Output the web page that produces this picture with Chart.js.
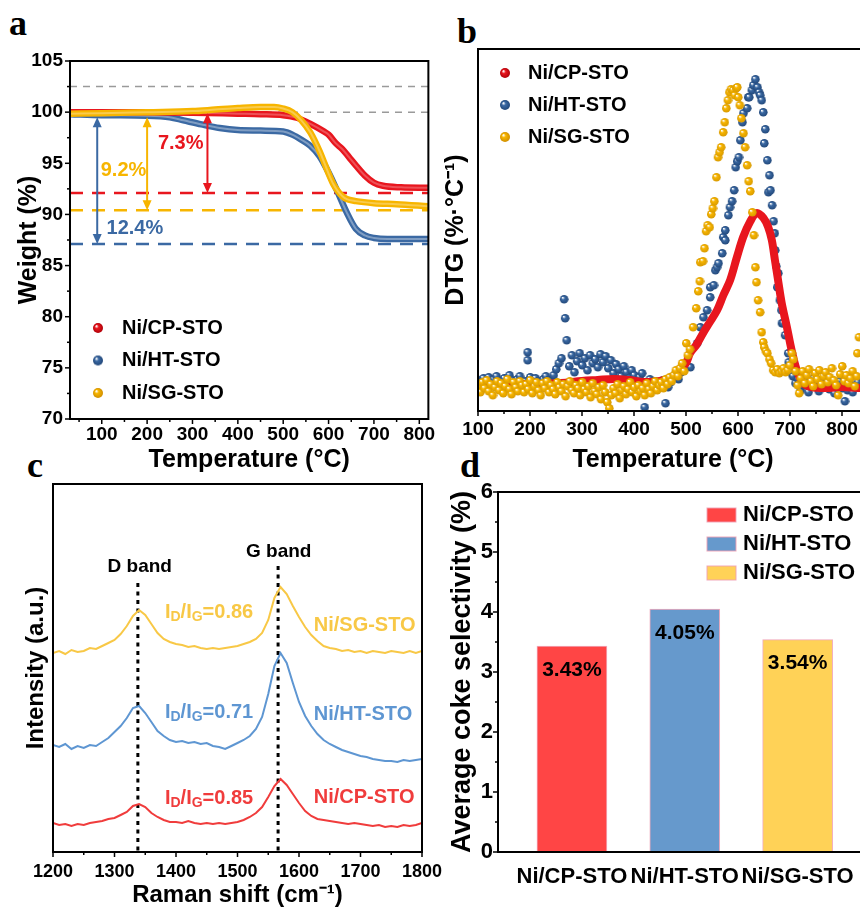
<!DOCTYPE html>
<html>
<head>
<meta charset="utf-8">
<script src="https://cdn.jsdelivr.net/npm/chart.js@4.4.0/dist/chart.umd.min.js"></script>
<style>
  html, body { margin: 0; padding: 0; background: #fff; overflow: hidden; width: 860px; height: 908px; }
  canvas { position: absolute; }
  .tag { position: absolute; font-family: "Liberation Serif", "Times New Roman", serif; font-weight: bold; font-size: 36px; line-height: 36px; }
</style>
</head>
<body>
<div class="tag" style="left:9px;top:5px">a</div>
<div class="tag" style="left:457px;top:13px">b</div>
<div class="tag" style="left:27px;top:447px">c</div>
<div class="tag" style="left:460px;top:447px">d</div>
<canvas id="ca" width="440" height="480" style="left:0;top:0"></canvas>
<canvas id="cb" width="460" height="480" style="left:440px;top:0"></canvas>
<canvas id="cc" width="470" height="440" style="left:0;top:470px"></canvas>
<canvas id="cd" width="460" height="440" style="left:440px;top:470px"></canvas>
<script>
// ---- data: (a) TGA ----
const tgaCpT = [30, 100, 200, 300, 400, 450, 500, 530, 560, 590, 600, 615, 630, 645, 660, 680, 700, 720, 760, 820];
const tgaCpW = [100.0, 100.0, 100.0, 99.95, 99.85, 99.8, 99.7, 99.45, 98.85, 98.1, 97.8, 97.0, 96.4, 95.6, 94.8, 93.8, 93.1, 92.8, 92.65, 92.6];
const tgaHtT = [30, 100, 200, 250, 280, 320, 360, 400, 450, 500, 520, 540, 560, 580, 600, 620, 640, 660, 680, 700, 730, 820];
const tgaHtW = [99.8, 99.7, 99.65, 99.5, 99.2, 98.8, 98.45, 98.25, 98.2, 98.1, 97.8, 97.3, 96.7, 95.7, 94.1, 92.2, 90.2, 88.6, 87.95, 87.7, 87.6, 87.6];
const tgaSgT = [30, 100, 200, 300, 350, 400, 450, 480, 500, 520, 540, 560, 580, 600, 610, 620, 630, 640, 660, 700, 750, 820];
const tgaSgW = [99.85, 99.9, 100.0, 100.1, 100.25, 100.4, 100.5, 100.5, 100.35, 100.0, 99.2, 98.0, 96.2, 94.0, 93.0, 92.3, 91.8, 91.5, 91.3, 91.1, 91.0, 90.8];
const tgaXTicks = [100, 200, 300, 400, 500, 600, 700, 800];
const grayLevels = [102.5, 100];
const lossLevel = [92.1, 90.4, 87.1];     // CP, SG, HT residual weight
const lossTop = [99.9, 99.5, 99.5];
const lossText = ['7.3%', '9.2%', '12.4%'];

// ---- data: (b) DTG, [temperature, value] ----
const dtgCpT = [100, 140, 180, 220, 260, 300, 330, 360, 390, 420, 450, 480, 500, 508, 520, 533, 546, 560, 572, 585, 598, 610, 623, 636, 649, 658, 665, 671, 677, 684, 694, 703, 713, 725, 740, 770, 800, 830, 850];
const dtgCpV = [2.6, 2.6, 2.7, 2.7, 2.8, 3.0, 3.1, 3.2, 3.1, 2.9, 3.0, 3.6, 4.8, 5.8, 6.6, 7.8, 8.9, 10.1, 11.6, 13.1, 15.4, 17.4, 18.9, 19.8, 19.3, 18.4, 17.1, 15.1, 13.1, 10.8, 8.4, 6.1, 4.1, 2.8, 2.4, 2.3, 2.4, 2.3, 2.3];
const dtgHt = [
  [100,3.1],[105,2.7],[110,3.3],[115,2.9],[120,3.4],[125,2.6],[130,3.2],[135,3.5],[140,2.8],[145,3.0],
  [150,3.3],[155,2.5],[160,3.6],[165,3.1],[170,2.7],[175,3.2],[180,3.5],[185,2.9],[190,3.0],[195,5.9],
  [195,5.1],[200,3.4],[205,2.8],[210,3.3],[215,3.0],[220,2.6],[225,3.2],[230,3.5],[235,3.1],[240,2.9],
  [245,3.6],[250,4.2],[255,4.8],[260,5.3],[265,11.2],[267,9.3],[270,7.1],[275,4.5],[280,5.6],[285,3.9],
  [290,5.0],[295,5.8],[300,4.6],[305,5.3],[310,4.1],[315,5.6],[320,4.8],[325,5.2],[330,4.4],[335,5.7],
  [340,4.9],[345,5.5],[350,4.3],[355,5.1],[360,3.8],[365,4.7],[370,4.2],[375,3.5],[380,4.5],[385,3.9],
  [390,3.3],[395,4.1],[400,3.6],[405,2.9],[410,3.4],[415,3.8],[420,0.4],[425,2.8],[430,3.2],[435,2.6],
  [440,3.0],[445,2.7],[450,2.5],[455,3.1],[460,0.8],[465,2.4],[470,2.9],[475,3.3],[480,3.7],[485,3.2],
  [490,3.9],[495,4.3],
  [508,4.4],[521,6.8],[527,8.4],[533,9.4],[540,10.1],[546,11.4],[546,12.4],[553,12.6],[556,14.1],[559,14.4],
  [562,14.8],[569,15.8],[571,17.4],[575,17.1],[575,18.1],[581,19.6],[584,20.4],[588,21.0],[592,22.1],[595,24.4],
  [598,25.0],[601,25.4],[604,27.1],[608,28.9],[610,29.8],[617,30.3],[619,31.4],[621,31.4],[626,32.1],[629,32.6],
  [633,33.2],[637,32.4],[640,31.9],[642,31.6],[645,31.1],[648,29.9],[650,26.8],[652,28.2],[656,25.1],[658,21.9],
  [660,23.6],[662,22.1],[665,20.6],[668,19.0],[670,17.8],[671,16.1],[673,14.5],[675,12.4],[677,13.8],[680,11.1],
  [683,10.1],[684,8.8],[686,8.8],[690,7.6],[696,5.8],[697,4.9],[703,3.8],
  [705,3.5],[710,2.8],[715,3.2],[720,2.1],[725,2.6],[730,3.0],[735,1.9],[740,2.7],[745,3.3],[750,2.4],
  [755,2.0],[760,2.9],[765,2.5],[770,3.1],[775,2.2],[780,2.8],[785,1.8],[790,2.6],[795,3.0],[800,2.3],
  [805,1.0],[810,2.1],[815,2.7],[820,1.9],[825,2.5],[830,2.9]
];
const dtgSg = [
  [100,2.6],[104,1.9],[108,2.9],[112,2.3],[116,3.1],[120,2.0],[124,2.7],[128,1.6],[132,2.4],[136,3.0],
  [140,2.1],[144,2.8],[148,1.8],[152,2.5],[156,3.2],[160,2.2],[164,1.7],[168,2.9],[172,2.4],[176,2.0],
  [180,3.0],[184,2.6],[188,1.9],[192,2.7],[196,2.2],[200,3.1],[204,1.8],[208,2.5],[212,2.9],[216,2.1],
  [220,1.6],[224,2.8],[228,2.3],[232,3.0],[236,1.9],[240,2.6],[244,2.2],[248,1.7],[252,2.9],[256,2.4],
  [260,2.0],[264,2.7],[268,1.5],[272,2.5],[276,3.0],[280,2.1],[284,1.8],[288,2.6],[292,2.3],[296,1.6],
  [300,2.9],[304,2.2],[308,1.9],[312,2.5],[316,1.4],[320,2.8],[324,2.0],[328,1.7],[332,2.4],[336,1.2],
  [340,2.6],[344,1.9],[348,0.9],[352,0.3],[356,1.6],[360,2.3],[364,1.8],[368,2.7],[372,1.3],[376,2.1],
  [380,2.5],[384,1.7],[388,2.2],[392,2.9],[396,1.9],[400,2.4],[404,1.5],[408,2.6],[412,2.0],[416,2.3],
  [420,1.6],[424,2.8],[428,2.2],[432,1.8],[436,2.5],[440,3.0],[444,2.1],[448,2.6],[452,2.9],[456,2.3],
  [460,3.2],[464,2.7],[468,3.4],[472,3.0],[476,3.6],[480,4.1],[484,3.5],[488,4.3],[492,4.8],[496,4.0],
  [500,6.8],[503,5.6],[507,6.2],[513,8.4],[519,10.3],[523,12.0],[526,13.0],[527,14.9],[532,15.0],[535,16.3],
  [538,18.0],[541,18.6],[545,18.4],[548,19.7],[551,20.3],[554,21.0],[558,23.4],[561,25.4],[564,25.9],[567,26.4],
  [571,27.9],[574,28.9],[577,30.3],[580,31.1],[583,31.9],[586,32.2],[590,32.1],[593,31.6],[596,32.3],[598,32.4],
  [600,31.4],[603,30.6],[606,29.3],[610,27.8],[613,26.4],[617,24.6],[620,23.0],[623,22.0],[627,19.9],[630,17.6],
  [633,14.4],[635,12.9],[638,11.1],[642,9.9],[645,7.9],[648,6.9],[650,6.4],[653,6.0],[656,5.8],[660,5.2],
  [663,4.8],[667,4.1],[671,3.9],[675,4.2],[679,3.8],[683,4.0],[687,4.3],[691,3.9],[695,4.1],[699,4.6],
  [703,5.8],[706,5.2],[710,4.0],[714,2.6],[717,1.8],
  [720,3.3],[724,4.0],[728,2.8],[732,3.6],[736,4.2],[740,3.0],[744,2.5],[748,3.8],[752,3.2],[756,4.1],
  [760,2.7],[764,3.5],[768,3.9],[772,2.9],[776,3.4],[780,4.3],[784,3.1],[788,2.6],[792,1.6],[796,3.7],
  [800,4.5],[804,3.0],[808,3.6],[812,2.8],[816,3.3],[820,4.0],[824,2.5],[828,3.5],[829,5.8],[832,7.4]
];
const dtgXTicks = [100, 200, 300, 400, 500, 600, 700, 800];

// ---- data: (c) Raman ----
const ramanX = [1200,1210,1220,1230,1240,1250,1260,1270,1280,1290,1300,1310,1320,1330,1340,1350,1360,1370,1380,1390,
  1400,1410,1420,1430,1440,1450,1460,1470,1480,1490,1500,1510,1520,1530,1540,1550,1560,1570,1580,1590,
  1600,1610,1620,1630,1640,1650,1660,1670,1680,1690,1700,1710,1720,1730,1740,1750,1760,1770,1780,1790,1800];
const ramanSg = [19.9,20.1,19.8,20.2,20.0,20.1,20.4,20.3,20.6,20.9,21.2,21.8,22.6,23.6,24.2,23.7,22.8,21.9,21.3,21.0,
  20.8,20.7,20.5,20.6,20.4,20.3,20.4,20.3,20.4,20.5,20.6,20.8,21.0,21.3,21.9,23.2,25.4,26.5,25.8,24.6,
  23.5,22.5,21.7,21.1,20.6,20.4,20.3,20.1,20.2,20.0,20.1,19.9,20.1,20.0,19.9,20.1,20.0,19.9,20.1,19.9,20.1];
const ramanHt = [10.7,10.5,10.8,10.3,10.6,10.4,10.7,10.6,11.0,11.4,12.0,12.6,13.4,14.4,14.6,13.9,13.0,12.1,11.6,11.2,
  11.0,11.1,10.9,11.0,10.8,10.9,10.6,10.5,10.3,10.6,10.9,11.2,11.6,12.3,13.5,15.8,18.6,19.9,18.9,16.9,
  15.0,13.6,12.6,11.8,11.2,10.8,10.5,10.2,10.0,9.8,9.6,9.5,9.3,9.2,9.1,9.1,9.0,9.2,9.1,9.2,9.3];
const ramanCp = [2.9,2.7,2.8,2.6,2.8,2.7,2.9,3.0,3.1,3.3,3.4,3.7,4.0,4.6,4.8,4.5,3.9,3.5,3.2,3.0,
  3.0,2.9,3.1,2.9,2.8,2.9,2.8,2.9,2.8,2.9,3.0,3.2,3.5,3.9,4.5,5.5,6.6,7.3,6.7,5.8,
  4.9,4.1,3.6,3.3,3.2,3.1,3.0,2.9,2.8,2.9,2.8,2.7,2.6,2.7,2.5,2.6,2.5,2.7,2.6,2.7,2.9];
const ramanTicks = [1200, 1300, 1400, 1500, 1600, 1700, 1800];
const bandPos = [1338, 1566];
const ratioText = ['0.86', '0.71', '0.85'];   // SG, HT, CP

// ---- data: (d) coke selectivity ----
const cokeNames = ['Ni/CP-STO', 'Ni/HT-STO', 'Ni/SG-STO'];
const cokePos = [1, 2, 3];
const cokeValues = [3.43, 4.05, 3.54];

// ---- styles ----
const FONT = '"Liberation Sans", Arial, sans-serif';
const bold = (s) => ({ family: FONT, size: s, weight: 'bold' });
Chart.defaults.color = '#000';
Chart.defaults.font.family = FONT;

const CP_A = '#e8161e', HT_A = '#3b69a3', SG_A = '#f7b500';
const CP_C = '#f03c3c', HT_C = '#5e96d2', SG_C = '#f8c846';
const CP_D = '#ff4545', HT_D = '#6699cc', SG_D = '#ffd257';

const xy = (xs, ys) => xs.map((x, i) => ({ x: x, y: ys[i] }));
const pairs = (arr) => arr.map(p => ({ x: p[0], y: p[1] }));
const plain = v => String(v);

function ball(color, dark, r) {
  const c = document.createElement('canvas');
  c.width = c.height = 2 * r + 2;
  const g = c.getContext('2d');
  const m = r + 1;
  const gr = g.createRadialGradient(m - r * 0.35, m - r * 0.4, 0.3, m, m, r);
  gr.addColorStop(0, '#ffffff');
  gr.addColorStop(0.35, color);
  gr.addColorStop(1, dark);
  g.fillStyle = gr;
  g.beginPath(); g.arc(m, m, r, 0, Math.PI * 2); g.fill();
  return c;
}

function frame(chart) {
  const ctx = chart.ctx, a = chart.chartArea;
  ctx.save();
  ctx.strokeStyle = '#000'; ctx.lineWidth = 2;
  ctx.strokeRect(a.left, a.top, a.right - a.left, a.bottom - a.top);
  ctx.restore();
}

function ticks(chart, axis, major, minor) {
  const ctx = chart.ctx, s = chart.scales[axis], a = chart.chartArea;
  ctx.save();
  ctx.strokeStyle = '#000'; ctx.lineWidth = 1.5;
  const one = (v, len) => {
    const p = s.getPixelForValue(v);
    ctx.beginPath();
    if (axis === 'x') { ctx.moveTo(p, a.bottom); ctx.lineTo(p, a.bottom + len); }
    else { ctx.moveTo(a.left, p); ctx.lineTo(a.left - len, p); }
    ctx.stroke();
  };
  major.forEach(v => one(v, 5));
  minor.forEach(v => one(v, 3));
  ctx.restore();
}

function vArrow(ctx, x, y1, y2, color) {
  const h = 10, w = 4.5;
  ctx.save();
  ctx.strokeStyle = color; ctx.fillStyle = color; ctx.lineWidth = 2;
  ctx.beginPath(); ctx.moveTo(x, y1 + h - 1); ctx.lineTo(x, y2 - h + 1); ctx.stroke();
  ctx.beginPath(); ctx.moveTo(x, y1); ctx.lineTo(x - w, y1 + h); ctx.lineTo(x + w, y1 + h); ctx.closePath(); ctx.fill();
  ctx.beginPath(); ctx.moveTo(x, y2); ctx.lineTo(x - w, y2 - h); ctx.lineTo(x + w, y2 - h); ctx.closePath(); ctx.fill();
  ctx.restore();
}

function hline(ctx, chart, y, color, width, dash) {
  const a = chart.chartArea, p = chart.scales.y.getPixelForValue(y);
  ctx.save();
  ctx.strokeStyle = color; ctx.lineWidth = width; ctx.setLineDash(dash);
  ctx.beginPath(); ctx.moveTo(a.left, p); ctx.lineTo(a.right, p); ctx.stroke();
  ctx.restore();
}

function text(ctx, str, x, y, color, size, align) {
  ctx.save();
  ctx.fillStyle = color; ctx.font = 'bold ' + size + 'px ' + FONT;
  ctx.textAlign = align || 'left'; ctx.textBaseline = 'middle';
  ctx.fillText(str, x, y);
  ctx.restore();
}

const baseScale = (min, max) => ({
  type: 'linear', min: min, max: max,
  grid: { display: false, drawTicks: false },
  border: { display: false }
});

const minorOf = (major, half, lo, hi) => {
  const out = [];
  major.forEach(v => { if (v - half > lo) out.push(v - half); });
  const last = major[major.length - 1];
  if (last + half < hi) out.push(last + half);
  return out;
};

// ================= (a) =================
new Chart(document.getElementById('ca'), {
  type: 'scatter',
  data: {
    datasets: [
      { data: xy(tgaSgT, tgaSgW), showLine: true, borderColor: 'rgba(255,255,255,0.3)', borderWidth: 2, pointRadius: 0, cubicInterpolationMode: 'monotone', order: 0 },
      { data: xy(tgaSgT, tgaSgW), showLine: true, borderColor: SG_A, borderWidth: 6.5, pointRadius: 0, cubicInterpolationMode: 'monotone', order: 1 },
      { data: xy(tgaCpT, tgaCpW), showLine: true, borderColor: 'rgba(255,255,255,0.25)', borderWidth: 2, pointRadius: 0, cubicInterpolationMode: 'monotone', order: 2 },
      { data: xy(tgaCpT, tgaCpW), showLine: true, borderColor: CP_A, borderWidth: 6.5, pointRadius: 0, cubicInterpolationMode: 'monotone', order: 3 },
      { data: xy(tgaHtT, tgaHtW), showLine: true, borderColor: 'rgba(255,255,255,0.35)', borderWidth: 2, pointRadius: 0, cubicInterpolationMode: 'monotone', order: 4 },
      { data: xy(tgaHtT, tgaHtW), showLine: true, borderColor: HT_A, borderWidth: 6.5, pointRadius: 0, cubicInterpolationMode: 'monotone', order: 5 }
    ]
  },
  options: {
    responsive: false, animation: false,
    layout: { padding: { left: 0, top: 61, right: 10, bottom: 0 } },
    plugins: { legend: { display: false }, tooltip: { enabled: false } },
    scales: {
      x: Object.assign(baseScale(30, 820), {
        afterBuildTicks: s => { s.ticks = tgaXTicks.map(v => ({ value: v })); },
        afterFit: s => { s.height = 61; },
        ticks: { font: bold(19), padding: 4.6, autoSkip: false, maxRotation: 0, callback: plain },
        title: { display: true, text: 'Temperature (°C)', font: bold(25), padding: { top: 0, bottom: 5 } }
      }),
      y: Object.assign(baseScale(70, 105), {
        afterFit: s => { s.width = 70; },
        ticks: { font: bold(19), padding: 7, stepSize: 5, callback: plain },
        title: { display: true, text: 'Weight (%)', font: bold(25), padding: { top: 14, bottom: 0 } }
      })
    }
  },
  plugins: [{
    id: 'tgaDeco',
    beforeDatasetsDraw(chart) {
      const ctx = chart.ctx;
      grayLevels.forEach(v => hline(ctx, chart, v, '#9a9a9a', 1.5, [7, 6]));
      [CP_A, SG_A, HT_A].forEach((c, i) => hline(ctx, chart, lossLevel[i], c, 2.5, [13, 9]));
    },
    afterDraw(chart) {
      const ctx = chart.ctx, sx = chart.scales.x, sy = chart.scales.y;
      frame(chart);
      ticks(chart, 'x', tgaXTicks, minorOf(tgaXTicks, 50, 30, 820));
      const yMaj = [70, 75, 80, 85, 90, 95, 100, 105];
      ticks(chart, 'y', yMaj, minorOf(yMaj, 2.5, 70, 105));
      const arrowX = [333, 200, 90];
      const cols = [CP_A, SG_A, HT_A];
      arrowX.forEach((t, i) => vArrow(ctx, sx.getPixelForValue(t), sy.getPixelForValue(lossTop[i]), sy.getPixelForValue(lossLevel[i]), cols[i]));
      const labX = [274, 148, 173], labY = [96.9, 94.25, 88.6];
      lossText.forEach((s, i) => text(ctx, s, sx.getPixelForValue(labX[i]), sy.getPixelForValue(labY[i]), cols[i], 20, 'center'));
      // legend
      const names = ['Ni/CP-STO', 'Ni/HT-STO', 'Ni/SG-STO'];
      const balls = [ball(CP_A, '#b00008', 5), ball(HT_A, '#22487a', 5), ball(SG_A, '#d08f00', 5)];
      names.forEach((n, i) => {
        const yy = 328 + i * 32.5;
        ctx.drawImage(balls[i], 98 - 6, yy - 6);
        text(ctx, n, 122, yy, '#000', 20);
      });
    }
  }]
});

// ================= (b) =================
new Chart(document.getElementById('cb'), {
  type: 'scatter',
  data: {
    datasets: [
      { data: pairs(dtgSg), pointStyle: ball(SG_A, '#d89a00', 4.3), pointRadius: 4.3, order: 0 },
      { data: xy(dtgCpT, dtgCpV), showLine: true, borderColor: CP_A, borderWidth: 8, pointRadius: 0, tension: 0.35, order: 1 },
      { data: pairs(dtgHt), pointStyle: ball(HT_A, '#22487a', 4.3), pointRadius: 4.3, order: 2 }
    ]
  },
  options: {
    responsive: false, animation: false,
    layout: { padding: { left: 0, top: 49, right: 32, bottom: 0 } },
    plugins: { legend: { display: false }, tooltip: { enabled: false } },
    scales: {
      x: Object.assign(baseScale(100, 850), {
        afterBuildTicks: s => { s.ticks = dtgXTicks.map(v => ({ value: v })); },
        afterFit: s => { s.height = 69; },
        ticks: { font: bold(19), padding: 7.6, autoSkip: false, maxRotation: 0, callback: plain },
        title: { display: true, text: 'Temperature (°C)', font: bold(25), padding: { top: 0, bottom: 5 } }
      }),
      y: Object.assign(baseScale(0, 36.2), {
        afterFit: s => { s.width = 38; },
        ticks: { display: false },
        title: { display: true, text: 'DTG (%·°C\u207B\u00B9)', font: bold(25), padding: { top: 1, bottom: 0 } }
      })
    }
  },
  plugins: [{
    id: 'dtgDeco',
    afterDraw(chart) {
      const ctx = chart.ctx;
      frame(chart);
      ticks(chart, 'x', dtgXTicks, [150, 250, 350, 450, 550, 650, 750]);
      const names = ['Ni/CP-STO', 'Ni/HT-STO', 'Ni/SG-STO'];
      const balls = [ball(CP_A, '#b00008', 5), ball(HT_A, '#22487a', 5), ball(SG_A, '#d08f00', 5)];
      names.forEach((n, i) => {
        const yy = 73 + i * 32;
        ctx.drawImage(balls[i], 65 - 6, yy - 6);
        text(ctx, n, 88, yy, '#000', 20);
      });
    }
  }]
});

// ================= (c) =================
new Chart(document.getElementById('cc'), {
  type: 'scatter',
  data: {
    datasets: [
      { data: xy(ramanX, ramanSg), showLine: true, borderColor: SG_C, borderWidth: 2, pointRadius: 0 },
      { data: xy(ramanX, ramanHt), showLine: true, borderColor: HT_C, borderWidth: 2, pointRadius: 0 },
      { data: xy(ramanX, ramanCp), showLine: true, borderColor: CP_C, borderWidth: 2, pointRadius: 0 }
    ]
  },
  options: {
    responsive: false, animation: false,
    layout: { padding: { left: 0, top: 14, right: 48, bottom: 0 } },
    plugins: { legend: { display: false }, tooltip: { enabled: false } },
    scales: {
      x: Object.assign(baseScale(1200, 1800), {
        afterBuildTicks: s => { s.ticks = ramanTicks.map(v => ({ value: v })); },
        afterFit: s => { s.height = 58; },
        ticks: { font: bold(18), padding: 9.2, autoSkip: false, maxRotation: 0, callback: plain },
        title: { display: true, text: 'Raman shift (cm\u207B\u00B9)', font: bold(24), padding: { top: 0, bottom: 0.6 } }
      }),
      y: Object.assign(baseScale(0, 36.8), {
        afterFit: s => { s.width = 53; },
        ticks: { display: false },
        title: { display: true, text: 'Intensity (a.u.)', font: bold(24), padding: { top: 21.6, bottom: 0 } }
      })
    }
  },
  plugins: [{
    id: 'ramanDeco',
    beforeDatasetsDraw(chart) {
      const ctx = chart.ctx, sx = chart.scales.x, sy = chart.scales.y;
      const tops = [26.9, 28.6];
      ctx.save();
      ctx.strokeStyle = '#000'; ctx.lineWidth = 3; ctx.setLineDash([4, 4.5]);
      bandPos.forEach((b, i) => {
        const px = sx.getPixelForValue(b);
        ctx.beginPath(); ctx.moveTo(px, sy.getPixelForValue(tops[i])); ctx.lineTo(px, chart.chartArea.bottom); ctx.stroke();
      });
      ctx.restore();
    },
    afterDraw(chart) {
      const ctx = chart.ctx, sx = chart.scales.x, sy = chart.scales.y;
      frame(chart);
      ticks(chart, 'x', ramanTicks, [1250, 1350, 1450, 1550, 1650, 1750]);
      text(ctx, 'D band', sx.getPixelForValue(1341), sy.getPixelForValue(28.5), '#000', 19, 'center');
      text(ctx, 'G band', sx.getPixelForValue(1567), sy.getPixelForValue(30.0), '#000', 19, 'center');
      const cols = [SG_C, HT_C, CP_C];
      const ry = [24.0, 14.0, 5.4];
      ratioText.forEach((r, i) => {
        let x = sx.getPixelForValue(1382);
        const y = sy.getPixelForValue(ry[i]);
        const seg = [['I', 20, 0], ['D', 14, 5], ['/I', 20, 0], ['G', 14, 5], ['=' + r, 20, 0]];
        ctx.save();
        ctx.fillStyle = cols[i]; ctx.textBaseline = 'middle';
        seg.forEach(s => {
          ctx.font = 'bold ' + s[1] + 'px ' + FONT;
          ctx.fillText(s[0], x, y + s[2]);
          x += ctx.measureText(s[0]).width;
        });
        ctx.restore();
      });
      const names = ['Ni/SG-STO', 'Ni/HT-STO', 'Ni/CP-STO'];
      const ny = [22.7, 13.8, 5.5];
      names.forEach((n, i) => text(ctx, n, sx.getPixelForValue(1624), sy.getPixelForValue(ny[i]), cols[i], 20));
    }
  }]
});

// ================= (d) =================
const barCols = [CP_D, HT_D, SG_D];
new Chart(document.getElementById('cd'), {
  type: 'bar',
  data: {
    datasets: [{
      data: xy(cokePos, cokeValues),
      backgroundColor: barCols,
      borderColor: 'rgba(240,160,180,0.9)', borderWidth: 1,
      barThickness: 70
    }]
  },
  options: {
    responsive: false, animation: false,
    layout: { padding: { left: 0, top: 22, right: 29, bottom: 0 } },
    plugins: { legend: { display: false }, tooltip: { enabled: false } },
    scales: {
      x: Object.assign(baseScale(0.345, 3.65), {
        offset: false,
        afterBuildTicks: s => { s.ticks = cokePos.map(v => ({ value: v })); },
        afterFit: s => { s.height = 58; },
        ticks: { font: bold(22), padding: 11.8, autoSkip: false, maxRotation: 0, callback: v => cokeNames[v - 1] }
      }),
      y: Object.assign(baseScale(0, 6), {
        afterFit: s => { s.width = 58; },
        ticks: { font: bold(22), padding: 5, stepSize: 1, callback: plain },
        title: { display: true, text: 'Average coke selectivity (%)', font: bold(27), padding: { top: 6.8, bottom: 0 } }
      })
    }
  },
  plugins: [{
    id: 'cokeDeco',
    afterDraw(chart) {
      const ctx = chart.ctx;
      frame(chart);
      ticks(chart, 'y', [0, 1, 2, 3, 4, 5, 6], [0.5, 1.5, 2.5, 3.5, 4.5, 5.5]);
      chart.getDatasetMeta(0).data.forEach((bar, i) => {
        text(ctx, cokeValues[i].toFixed(2) + '%', bar.x, bar.y + 24, '#000', 21, 'center');
      });
      cokeNames.forEach((n, i) => {
        const yy = 45 + i * 29;
        ctx.save();
        ctx.fillStyle = barCols[i]; ctx.strokeStyle = 'rgba(240,160,180,0.9)'; ctx.lineWidth = 1;
        ctx.fillRect(267, yy - 7, 29, 14); ctx.strokeRect(267, yy - 7, 29, 14);
        ctx.restore();
        text(ctx, n, 303, yy, '#000', 22);
      });
    }
  }]
});
</script>
</body>
</html>
